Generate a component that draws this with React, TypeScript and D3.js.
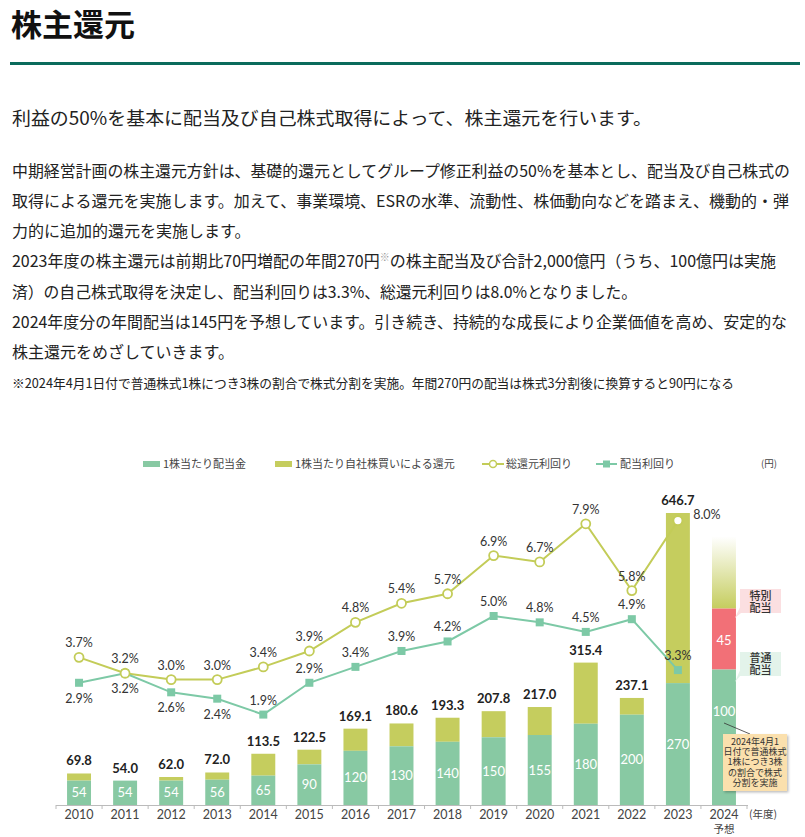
import React from 'react';
import * as d3 from 'd3';

// ---------- data ----------
const years = ['2010','2011','2012','2013','2014','2015','2016','2017','2018','2019','2020','2021','2022','2023','2024'];
const histYears = years.slice(0, 14);
const dividendPerShare = [54, 54, 54, 56, 65, 90, 120, 130, 140, 150, 155, 180, 200, 270];
const totalReturnPerShare = [69.8, 54.0, 62.0, 72.0, 113.5, 122.5, 169.1, 180.6, 193.3, 207.8, 217.0, 315.4, 237.1, 646.7];
const totalYield = [3.7, 3.2, 3.0, 3.0, 3.4, 3.9, 4.8, 5.4, 5.7, 6.9, 6.7, 7.9, 5.8, 8.0];
const dividendYield = [2.9, 3.2, 2.6, 2.4, 1.9, 2.9, 3.4, 3.9, 4.2, 5.0, 4.8, 4.5, 4.9, 3.3];
// 2024 forecast (post-split yen, split 1:3)
const forecastRegular = 100;
const forecastSpecial = 45;
const splitRatio = 3;
const forecastFadeExtent = 160; // estimated height of faded placeholder (pre-split scale)

const legendLabels = ['1株当たり配当金', '1株当たり自社株買いによる還元', '総還元利回り', '配当利回り'];

const paragraphLines = [
  '中期経営計画の株主還元方針は、基礎的還元としてグループ修正利益の50%を基本とし、配当及び自己株式の',
  '取得による還元を実施します。加えて、事業環境、ESRの水準、流動性、株価動向などを踏まえ、機動的・弾',
  '力的に追加的還元を実施します。',
  '2023年度の株主還元は前期比70円増配の年間270円|※|の株主配当及び合計2,000億円（うち、100億円は実施',
  '済）の自己株式取得を決定し、配当利回りは3.3%、総還元利回りは8.0%となりました。',
  '2024年度分の年間配当は145円を予想しています。引き続き、持続的な成長により企業価値を高め、安定的な',
  '株主還元をめざしていきます。',
];
const paragraphEnds = [790, 789, null, 776, 637, 787, null];
const noteText = '※2024年4月1日付で普通株式1株につき3株の割合で株式分割を実施。年間270円の配当は株式3分割後に換算すると90円になる';
const annotationLines = ['2024年4月1', '日付で普通株式', '1株につき3株', 'の割合で株式', '分割を実施'];
const specialLabel = ['特別', '配当'];
const regularLabel = ['普通', '配当'];

const JP = "'Noto Sans CJK JP', 'Noto Sans', sans-serif";
const NUM = "Lato, 'Noto Sans', 'Noto Sans CJK JP', sans-serif";

const C_GREEN = '#88c9a3';
const C_YG = '#c5cd5e';
const C_RED = '#f27077';
const C_LINE_YG = '#c3cc58';
const C_LINE_G = '#7dc9a6';

export default function App() {
  const W = 805, H = 837;
  const baseY = 805;
  const x = d3.scaleBand<string>().domain(years).range([56, 747]).paddingInner(0.48).paddingOuter(0.24);
  const bw = x.bandwidth();
  const cx = (y: string) => (x(y) as number) + bw / 2;
  const yAmt = d3.scaleLinear().domain([0, 700]).range([baseY, baseY - 0.4515 * 700]);
  const yPct = d3.scaleLinear().domain([0, 10]).range([775, 457]);

  const line = d3.line<number>().x((_, i) => cx(histYears[i])).y(d => yPct(d));

  const f24 = '2024';
  const regTop = yAmt(forecastRegular * splitRatio);
  const spTop = yAmt(forecastRegular * splitRatio + forecastSpecial * splitRatio);
  const fadeTop = yAmt(forecastRegular * splitRatio + forecastSpecial * splitRatio + forecastFadeExtent);
  const x24 = x(f24) as number;

  const ticks = d3.range(years.length + 1).map(i => 56 + i * x.step());

  return (
    <svg width={W} height={H} style={{ position: 'absolute', left: 0, top: 0, background: '#fff' }}>
      <defs>
        <linearGradient id="fade" x1="0" y1="1" x2="0" y2="0">
          <stop offset="0" stopColor="#c5cd5e" stopOpacity="1" />
          <stop offset="1" stopColor="#ffffff" stopOpacity="1" />
        </linearGradient>
        <filter id="shadow" x="-10%" y="-10%" width="130%" height="130%">
          <feDropShadow dx="1.5" dy="1.5" stdDeviation="1" floodColor="#000" floodOpacity="0.25" />
        </filter>
      </defs>

      {/* header */}
      <text x={11} y={36} fontFamily={JP} fontSize={31} fontWeight={700} fill="#111">株主還元</text>
      <rect x={10} y={62} width={790} height={3} fill="#0b6b5c" />
      <text x={12} y={125} fontFamily={JP} fontSize={18} fill="#222" textLength={640} lengthAdjust="spacingAndGlyphs">
        利益の50%を基本に配当及び自己株式取得によって、株主還元を行います。
      </text>
      {paragraphLines.map((l, i) => {
        const parts = l.split('|');
        const end = paragraphEnds[i];
        return (
          <text key={i} x={12} y={176.5 + i * 30.3} fontFamily={JP} fontSize={16} fill="#222"
            {...(end ? { textLength: end - 12, lengthAdjust: 'spacingAndGlyphs' } : {})}>
            {parts.length === 1 ? l : (
              <>
                <tspan>{parts[0]}</tspan>
                <tspan fontSize={10} fill="#999" dy={-6}>{parts[1]}</tspan>
                <tspan dy={6}>{parts[2]}</tspan>
              </>
            )}
          </text>
        );
      })}
      <text x={12} y={387.5} fontFamily={JP} fontSize={13} fill="#222" textLength={722} lengthAdjust="spacingAndGlyphs">{noteText}</text>

      {/* legend */}
      <g fontFamily={JP} fontSize={11} fill="#444">
        <rect x={143} y={461} width={17} height={6} fill={C_GREEN} />
        <text x={163} y={468}>{legendLabels[0]}</text>
        <rect x={275} y={461} width={17} height={6} fill={C_YG} />
        <text x={295} y={468}>{legendLabels[1]}</text>
        <line x1={482} x2={504} y1={464} y2={464} stroke={C_LINE_YG} strokeWidth={2} />
        <circle cx={493} cy={464} r={3.5} fill="#fff" stroke={C_LINE_YG} strokeWidth={1.5} />
        <text x={506} y={468}>{legendLabels[2]}</text>
        <line x1={596} x2={617} y1={464} y2={464} stroke={C_LINE_G} strokeWidth={2} />
        <rect x={603} y={460.5} width={7} height={7} fill={C_LINE_G} />
        <text x={620} y={468}>{legendLabels[3]}</text>
        <text x={761} y={467} fontSize={9.5}>(円)</text>
      </g>

      {/* bars */}
      {histYears.map((yr, i) => {
        const bx = x(yr) as number;
        const dTop = yAmt(dividendPerShare[i]);
        const tTop = yAmt(totalReturnPerShare[i]);
        return (
          <g key={yr}>
            {totalReturnPerShare[i] > dividendPerShare[i] && (
              <rect x={bx} y={tTop} width={bw} height={dTop - tTop} fill={C_YG} />
            )}
            <rect x={bx} y={dTop} width={bw} height={baseY - dTop} fill={C_GREEN} />
            <text x={bx + bw / 2} y={(dTop + baseY) / 2 + 4.5} textAnchor="middle" fontFamily={NUM} fontSize={13} fill="#fff">
              {dividendPerShare[i]}
            </text>
            <text x={bx + bw / 2} y={tTop - 8} textAnchor="middle" fontFamily={NUM} fontSize={13} fontWeight={700} fill="#222">
              {totalReturnPerShare[i].toFixed(1)}
            </text>
          </g>
        );
      })}

      {/* 2024 forecast bar */}
      <rect x={x24} y={fadeTop} width={bw} height={spTop - fadeTop} fill="url(#fade)" />
      <rect x={x24} y={spTop} width={bw} height={regTop - spTop} fill={C_RED} />
      <rect x={x24} y={regTop} width={bw} height={baseY - regTop} fill={C_GREEN} />
      <text x={x24 + bw / 2} y={(spTop + regTop) / 2 + 6} textAnchor="middle" fontFamily={NUM} fontSize={13} fill="#fff">{forecastSpecial}</text>
      <text x={x24 + bw / 2} y={regTop + 46} textAnchor="middle" fontFamily={NUM} fontSize={13} fill="#fff">{forecastRegular}</text>

      {/* callouts */}
      <polygon points={`741,605 741,613 ${x24 + bw - 1},618`} fill="#fbdfe1" />
      <rect x={740} y={589} width={41} height={24} fill="#fbdfe1" />
      <text x={760.5} y={599.5} textAnchor="middle" fontFamily={JP} fontSize={11} fontWeight={500} fill="#333">
        <tspan x={760.5} dy={0}>{specialLabel[0]}</tspan>
        <tspan x={760.5} dy={12}>{specialLabel[1]}</tspan>
      </text>

      <polygon points={`741,668 741,675 ${x24 + bw - 1},682`} fill="#e3f3ea" />
      <rect x={740} y={652} width={41} height={24} fill="#e3f3ea" />
      <text x={760.5} y={662} textAnchor="middle" fontFamily={JP} fontSize={11} fontWeight={500} fill="#333">
        <tspan x={760.5} dy={0}>{regularLabel[0]}</tspan>
        <tspan x={760.5} dy={12}>{regularLabel[1]}</tspan>
      </text>

      <line x1={724} y1={723} x2={750} y2={734} stroke="#333" strokeWidth={0.8} />
      <rect x={723} y={734} width={64} height={57} fill="#fbe0ad" filter="url(#shadow)" />
      <text x={755} y={745} textAnchor="middle" fontFamily={JP} fontSize={9} fill="#333">
        {annotationLines.map((t, i) => (
          <tspan key={i} x={755} dy={i === 0 ? 0 : 10.2}>{t}</tspan>
        ))}
      </text>

      {/* axis */}
      <line x1={56} x2={748} y1={baseY + 0.5} y2={baseY + 0.5} stroke="#bbb" strokeWidth={1} />
      {ticks.map((t, i) => (
        <line key={i} x1={t} x2={t} y1={baseY} y2={baseY + 4} stroke="#bbb" strokeWidth={1} />
      ))}
      {years.map(yr => (
        <text key={yr} x={cx(yr)} y={819} textAnchor="middle" fontFamily={NUM} fontSize={12.5} fill="#444">{yr}</text>
      ))}
      <text x={cx('2024')} y={833} textAnchor="middle" fontFamily={JP} fontSize={10.5} fill="#444">予想</text>
      <text x={749} y={818} fontFamily={JP} fontSize={10.5} fill="#444">(年度)</text>

      {/* lines */}
      <path d={line(totalYield) as string} fill="none" stroke={C_LINE_YG} strokeWidth={2} />
      <path d={line(dividendYield) as string} fill="none" stroke={C_LINE_G} strokeWidth={2} />
      {dividendYield.map((v, i) => (
        <rect key={i} x={cx(histYears[i]) - 4} y={yPct(v) - 4} width={8} height={8} fill={C_LINE_G} />
      ))}
      {totalYield.map((v, i) => (
        <circle key={i} cx={cx(histYears[i])} cy={yPct(v)} r={4.5} fill="#fff" stroke={C_LINE_YG} strokeWidth={1.8} />
      ))}

      {/* percent labels */}
      <g fontFamily={NUM} fontSize={12.5} fill="#333" textAnchor="middle">
        {totalYield.map((v, i) => i === 13 ? (
          <text key={i} x={cx(histYears[i]) + 29} y={yPct(v) - 2} >{v.toFixed(1)}%</text>
        ) : (
          <text key={i} x={cx(histYears[i])} y={yPct(v) - 10}>{v.toFixed(1)}%</text>
        ))}
        {dividendYield.map((v, i) => (
          <text key={i} x={cx(histYears[i])} y={i < 4 ? yPct(v) + 20 : yPct(v) - 10}>{v.toFixed(1)}%</text>
        ))}
      </g>
    </svg>
  );
}
